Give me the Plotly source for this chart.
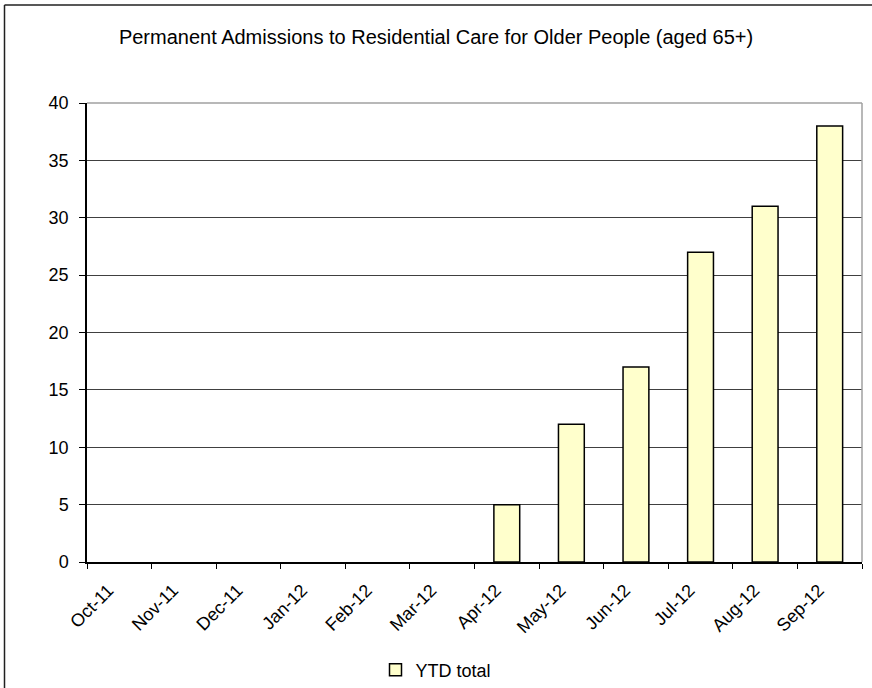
import plotly.graph_objects as go

months = ["Oct-11", "Nov-11", "Dec-11", "Jan-12", "Feb-12", "Mar-12",
          "Apr-12", "May-12", "Jun-12", "Jul-12", "Aug-12", "Sep-12"]
ytd_total = [0, 0, 0, 0, 0, 0, 5, 12, 17, 27, 31, 38]
y_ticks = [0, 5, 10, 15, 20, 25, 30, 35, 40]

FONT = "Liberation Sans, Arial, sans-serif"
BAR_FILL = "#FFFFCC"

fig = go.Figure()
fig.add_trace(go.Bar(
    x=months, y=ytd_total, name="YTD total", showlegend=False,
    marker=dict(color=BAR_FILL,
                line=dict(color="#000000",
                          width=[1.5 if v else 0 for v in ytd_total])),
))
# legend entry with outlined swatch
fig.add_trace(go.Bar(
    x=[None], y=[None], name="YTD total", showlegend=True,
    marker=dict(color=BAR_FILL, line=dict(color="#000000", width=1.5)),
))

W, H = 872, 688
L, R, T, B = 87, 10, 103, 126
pw, ph = W - L - R, H - T - B

def px_x(p):
    return (p - L) / pw

def px_y(p):
    return (H - B - p) / ph

fig.update_layout(
    width=W, height=H,
    margin=dict(l=L, r=R, t=T, b=B),
    paper_bgcolor="white", plot_bgcolor="white",
    font=dict(family=FONT, size=18, color="black"),
    bargap=0.6, barmode="overlay",
    showlegend=True,
    title=dict(text="Permanent Admissions to Residential Care for Older People (aged 65+)",
               font=dict(family=FONT, size=20, color="black"),
               x=0.5, xref="container", xanchor="center",
               y=1 - 37 / H, yref="container", yanchor="middle"),
    legend=dict(orientation="h", x=0.5, xref="container", xanchor="center",
                y=1 - 670 / H, yref="container", yanchor="middle",
                font=dict(family=FONT, size=18, color="black"),
                itemwidth=30),
    xaxis=dict(type="category", categoryorder="array", categoryarray=months,
               tickson="boundaries", ticks="outside", ticklen=5, tickwidth=1,
               tickcolor="black", showline=True, linecolor="black", linewidth=1.5,
               tickangle=-45, showgrid=False,
               ticklabelshift=-11, ticklabelstandoff=9,
               tickfont=dict(family=FONT, size=18, color="black")),
    yaxis=dict(range=[0, 40], tickvals=y_ticks, ticks="outside", ticklen=6,
               tickwidth=1, tickcolor="black", showline=True, linecolor="black",
               linewidth=1.5, showgrid=True, gridcolor="#404040", gridwidth=1,
               zeroline=False, ticklabelstandoff=7,
               tickfont=dict(family=FONT, size=18, color="black")),
    shapes=[
        dict(type="line", xref="paper", yref="paper", x0=0, x1=1, y0=1, y1=1,
             line=dict(color="#A0A0A0", width=1.5), layer="above"),
        dict(type="line", xref="paper", yref="paper", x0=1, x1=1, y0=0, y1=1,
             line=dict(color="#A0A0A0", width=1.5), layer="above"),
        dict(type="line", xref="paper", yref="paper",
             x0=px_x(4.5), x1=px_x(4.5), y0=px_y(5), y1=px_y(700),
             line=dict(color="#202020", width=1.5)),
        dict(type="line", xref="paper", yref="paper",
             x0=px_x(4.5), x1=px_x(880), y0=px_y(5), y1=px_y(5),
             line=dict(color="#202020", width=1.5)),
    ],
)

fig.write_html("out.html")
